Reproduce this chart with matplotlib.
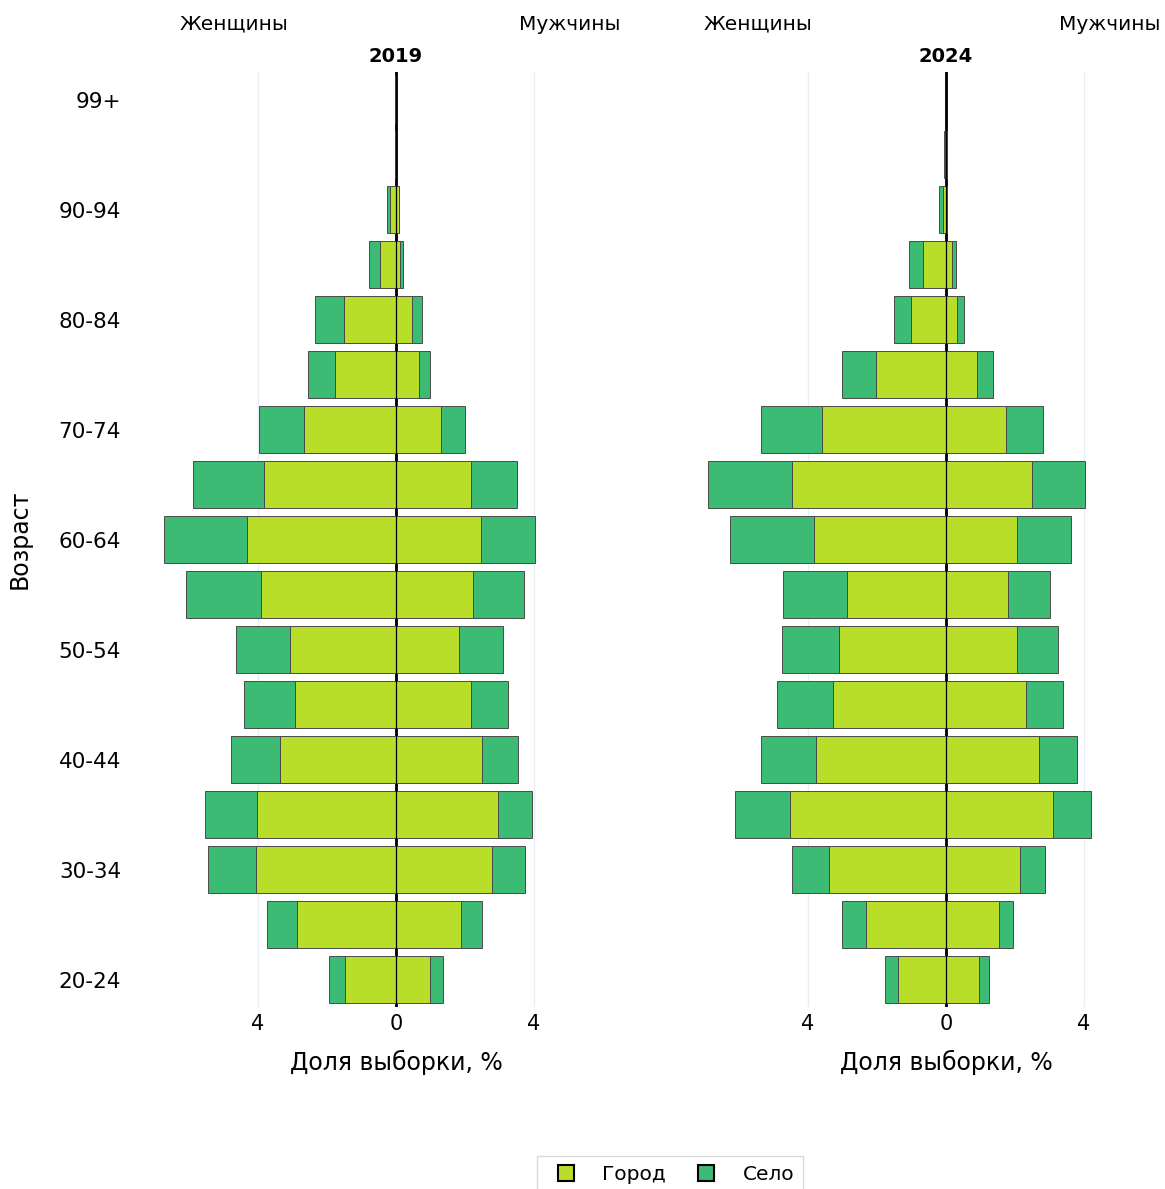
import matplotlib
matplotlib.use("Agg")
import matplotlib.pyplot as plt
from matplotlib.lines import Line2D
import numpy as np

ages = ['20-24', '25-29', '30-34', '35-39', '40-44', '45-49', '50-54', '55-59',
        '60-64', '65-69', '70-74', '75-79', '80-84', '85-89', '90-94', '95-99', '99+']

women_city_2019 = [1.47, 2.88, 4.06, 4.03, 3.37, 2.92, 3.07, 3.92, 4.33, 3.84, 2.68, 1.76, 1.50, 0.46, 0.16, 0.02, 0.01]
women_rural_2019 = [0.46, 0.85, 1.39, 1.50, 1.40, 1.49, 1.57, 2.18, 2.39, 2.04, 1.28, 0.79, 0.84, 0.32, 0.09, 0.01, 0.01]
men_city_2019 = [0.99, 1.87, 2.78, 2.97, 2.50, 2.16, 1.84, 2.22, 2.45, 2.18, 1.30, 0.66, 0.47, 0.11, 0.08, 0.01, 0.0]
men_rural_2019 = [0.38, 0.62, 0.96, 0.97, 1.03, 1.09, 1.25, 1.49, 1.59, 1.32, 0.71, 0.32, 0.27, 0.09, 0.0, 0.0, 0.0]

women_city_2024 = [1.40, 2.32, 3.40, 4.51, 3.78, 3.28, 3.09, 2.86, 3.83, 4.47, 3.59, 2.03, 1.01, 0.67, 0.10, 0.03, 0.0]
women_rural_2024 = [0.37, 0.70, 1.07, 1.61, 1.58, 1.62, 1.65, 1.86, 2.43, 2.44, 1.78, 0.99, 0.51, 0.41, 0.10, 0.02, 0.0]
men_city_2024 = [0.96, 1.55, 2.15, 3.11, 2.70, 2.31, 2.05, 1.81, 2.05, 2.50, 1.74, 0.89, 0.33, 0.16, 0.04, 0.02, 0.0]
men_rural_2024 = [0.29, 0.40, 0.73, 1.09, 1.11, 1.07, 1.20, 1.19, 1.56, 1.53, 1.06, 0.48, 0.19, 0.14, 0.0, 0.01, 0.0]

years = ['2019', '2024']
xticks = [-4, 0, 4]
xtick_labels = ['4', '0', '4']
legend_labels = ['Город', 'Село']

CITY = '#b8de29'
RURAL = '#3cbb75'
EDGE = '#4a4a4a'

plt.rcParams['font.family'] = ['DejaVu Sans']

W, H = 1165, 1189
fig = plt.figure(figsize=(W / 100, H / 100), dpi=100)


def fx(px):
    return px / W


def fy(py):
    return 1 - py / H


top_px, bot_px = 72, 1007
panels = [
    dict(left=140, right=640, zero=396, data=(women_city_2019, women_rural_2019, men_city_2019, men_rural_2019)),
    dict(left=690, right=1160, zero=946, data=(women_city_2024, women_rural_2024, men_city_2024, men_rural_2024)),
]
ppu = 34.5  # pixels per unit

y = np.arange(len(ages))
for i, p in enumerate(panels):
    ax = fig.add_axes([fx(p['left']), fy(bot_px), fx(p['right'] - p['left']), (bot_px - top_px) / H])
    ax.set_xlim((p['left'] - p['zero']) / ppu, (p['right'] - p['zero']) / ppu)
    ax.set_ylim(-0.5, len(ages) - 0.5)
    wc, wr, mc, mr = [np.array(a) for a in p['data']]
    kw = dict(height=0.85, edgecolor=EDGE, linewidth=0.7, zorder=2)
    ax.barh(y, -wc, color=CITY, **kw)
    ax.barh(y, -wr, left=-wc, color=RURAL, **kw)
    ax.barh(y, mc, color=CITY, **kw)
    ax.barh(y, mr, left=mc, color=RURAL, **kw)
    for gx in (-4, 4):
        ax.axvline(gx, color='#e9edf5', lw=1.0, zorder=0)
    ax.axvline(0, color='black', lw=2.0, zorder=1)
    ax.axvline(0, color='black', lw=0.9, zorder=3)
    for s in ax.spines.values():
        s.set_visible(False)
    ax.set_xticks(xticks)
    ax.set_xticklabels(xtick_labels, fontsize=15)
    ax.tick_params(axis='both', length=0, pad=5)
    if i == 0:
        ax.set_yticks(y[::2])
        ax.set_yticklabels(ages[::2], fontsize=15.5)
        ax.tick_params(axis='y', pad=13.5)
    else:
        ax.set_yticks([])
    fig.text(fx(p['zero']), fy(1062), 'Доля выборки, %', ha='center', va='center', fontsize=17)
    fig.text(fx(p['zero']), fy(56), years[i], ha='center', va='center', fontsize=14, fontweight='bold')

fig.text(fx(234), fy(24), 'Женщины', ha='center', va='center', fontsize=14.5)
fig.text(fx(570), fy(24), 'Мужчины', ha='center', va='center', fontsize=14.5)
fig.text(fx(758), fy(24), 'Женщины', ha='center', va='center', fontsize=14.5)
fig.text(fx(1110), fy(24), 'Мужчины', ha='center', va='center', fontsize=14.5)
fig.text(fx(20), fy(539), 'Возраст', ha='center', va='center', rotation=90, fontsize=17)

handles = [Line2D([0], [0], marker='s', linestyle='none', markersize=12,
                  markerfacecolor=c, markeredgecolor='black', markeredgewidth=1.5)
           for c in (CITY, RURAL)]
leg = fig.legend(handles, legend_labels, loc='upper center', ncol=2,
                 bbox_to_anchor=(fx(670), fy(1146)), fontsize=14.5, frameon=True,
                 fancybox=False, edgecolor='#d0d0d0', handletextpad=0.8, columnspacing=1.0,
                 borderpad=0.45)
leg.get_frame().set_linewidth(1.0)

fig.savefig('out.png', dpi=100)
